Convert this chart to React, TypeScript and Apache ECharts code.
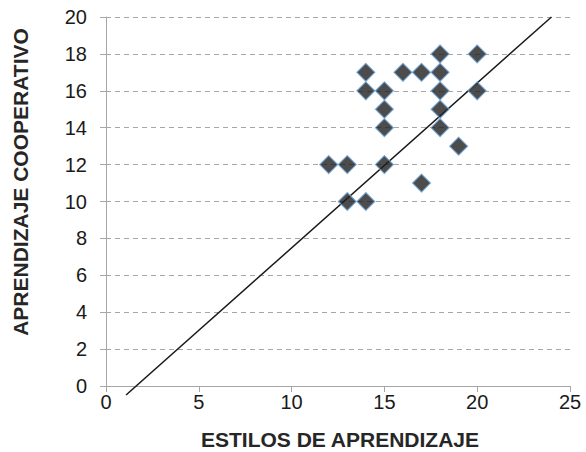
import React, { useEffect, useRef } from "react";
import * as echarts from "echarts";

const estilos = [12, 13, 13, 14, 14, 14, 15, 15, 15, 15, 16, 17, 17, 18, 18, 18, 18, 18, 19, 20, 20];
const cooperativo = [12, 12, 10, 10, 17, 16, 16, 15, 14, 12, 17, 17, 11, 18, 17, 16, 15, 14, 13, 18, 16];
const lineX = [1.08, 24.0];
const lineY = [-0.49, 20.0];
const xTitle = "ESTILOS DE APRENDIZAJE";
const yTitle = "APRENDIZAJE COOPERATIVO";

export default function App() {
  const ref = useRef<HTMLDivElement>(null);
  useEffect(() => {
    if (!ref.current) return;
    const chart = echarts.init(ref.current, undefined, { renderer: "svg" });
    const font = "Liberation Sans, Arial, sans-serif";
    chart.setOption({
      animation: false,
      backgroundColor: "#ffffff",
      grid: { left: 106, right: 16, top: 17, bottom: 66 },
      xAxis: {
        type: "value",
        min: 0,
        max: 25,
        interval: 5,
        axisLine: { show: true, lineStyle: { color: "#a6a6a6", width: 1 } },
        axisTick: { show: true, length: 6, lineStyle: { color: "#a6a6a6" } },
        axisLabel: { color: "#1a1a1a", fontSize: 20, fontFamily: font, margin: 6 },
        splitLine: { show: false },
      },
      yAxis: {
        type: "value",
        min: 0,
        max: 20,
        interval: 2,
        axisLine: { show: true, lineStyle: { color: "#a6a6a6", width: 1 } },
        axisTick: { show: true, length: 6, lineStyle: { color: "#a6a6a6" } },
        axisLabel: { color: "#1a1a1a", fontSize: 20, fontFamily: font, margin: 19 },
        splitLine: { show: true, lineStyle: { color: "#a6a6a6", type: [5, 4], width: 1 } },
      },
      graphic: [
        {
          type: "text",
          x: 340,
          y: 439,
          style: {
            text: xTitle,
            font: `bold 21px ${font}`,
            fill: "#262626",
            align: "center",
            verticalAlign: "middle",
          },
        },
        {
          type: "text",
          x: 20.5,
          y: 182,
          rotation: Math.PI / 2,
          style: {
            text: yTitle,
            font: `bold 21px ${font}`,
            fill: "#262626",
            align: "center",
            verticalAlign: "middle",
          },
        },
      ],
      series: [
        {
          type: "line",
          data: lineX.map((x, i) => [x, lineY[i]]),
          showSymbol: false,
          symbol: "none",
          clip: false,
          lineStyle: { color: "#1a1a1a", width: 1.5 },
          z: 1,
        },
        {
          type: "scatter",
          data: estilos.map((x, i) => [x, cooperativo[i]]),
          symbol: "diamond",
          symbolSize: 18,
          itemStyle: { color: "#1f1f1f", borderColor: "#6fa8dc", borderWidth: 1.2 },
          z: 2,
        },
      ],
    });
    return () => chart.dispose();
  }, []);
  return <div ref={ref} style={{ width: 586, height: 452, position: "absolute", left: 0, top: 0 }} />;
}
